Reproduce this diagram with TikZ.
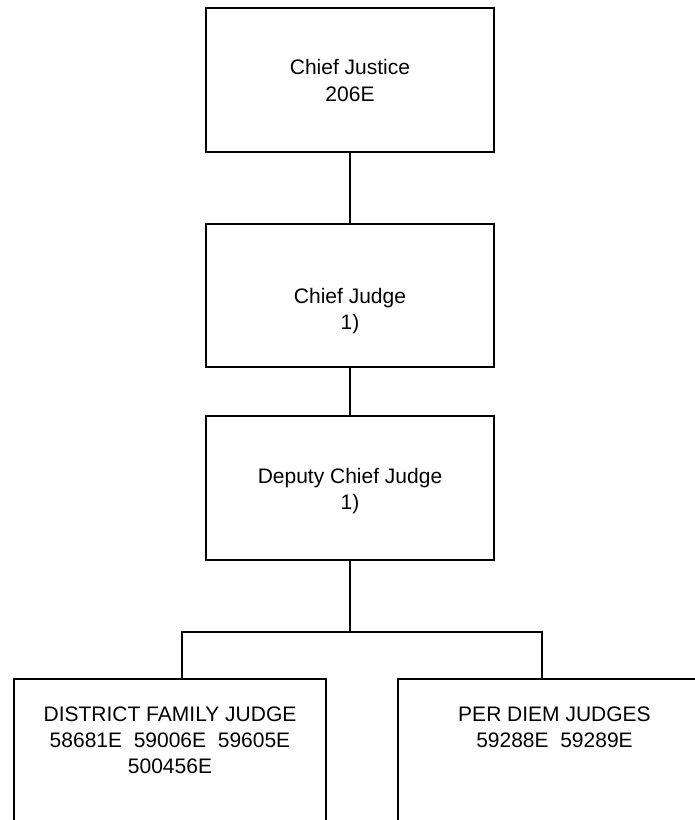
\documentclass[tikz,border=0pt]{standalone}
\usepackage{fontspec}
\setmainfont{Liberation Sans}
\begin{document}
\begin{tikzpicture}[x=1pt,y=-1pt,
  box/.style={draw,line width=1.3pt,inner sep=0pt,outer sep=0pt,minimum width=288pt,minimum height=144pt},
  lowbox/.style={draw,line width=1.3pt,inner sep=0pt,outer sep=0pt,minimum width=312pt,minimum height=200pt},
  lbl/.style={anchor=base,inner sep=0pt,font=\fontsize{21}{27}\selectfont},
  conn/.style={line width=1.3pt}]
\useasboundingbox (0,0) rectangle (695,820);
\clip (0,0) rectangle (695,820);
% boxes
\node[box] (cj) at (350,80) {};
\node[box,minimum height=143pt] (cjd) at (350,295.5) {};
\node[box] (dcj) at (350,488) {};
\node[lowbox] (dfj) at (170,779) {};
\node[lowbox,minimum width=313pt] (pdj) at (554.5,779) {};
% labels
\node[lbl] (cj1) at (350,74.5) {Chief Justice};
\node[lbl] (cj2) at (350,101) {206E};
\node[lbl] (cjd1) at (350,303.5) {Chief Judge};
\node[lbl] (cjd2) at (350,329.5) {1)};
\node[lbl] (dcj1) at (350,483.5) {Deputy Chief Judge};
\node[lbl] (dcj2) at (350,509.5) {1)};
\node[lbl] (dfj1) at (170,721.5) {DISTRICT FAMILY JUDGE};
\node[lbl] (dfj2) at (170,747.5) {58681E\ \ 59006E\ \ 59605E};
\node[lbl] (dfj3) at (170,773) {500456E};
\node[lbl] (pdj1) at (554.5,721.5) {PER DIEM JUDGES};
\node[lbl] (pdj2) at (554.5,747.5) {59288E\ \ 59289E};
% connectors
\coordinate (j) at (350,632);
\coordinate (jl) at (182,632);
\coordinate (jr) at (542,632);
\draw[conn] (cj.south) -- (cjd.north);
\draw[conn] (cjd.south) -- (dcj.north);
\draw[conn] (dcj.south) -- (j);
\draw[conn,line cap=rect] (jl) -- (jr);
\draw[conn] (jl) -- (jl |- dfj.north);
\draw[conn] (jr) -- (jr |- pdj.north);
\end{tikzpicture}
\end{document}
